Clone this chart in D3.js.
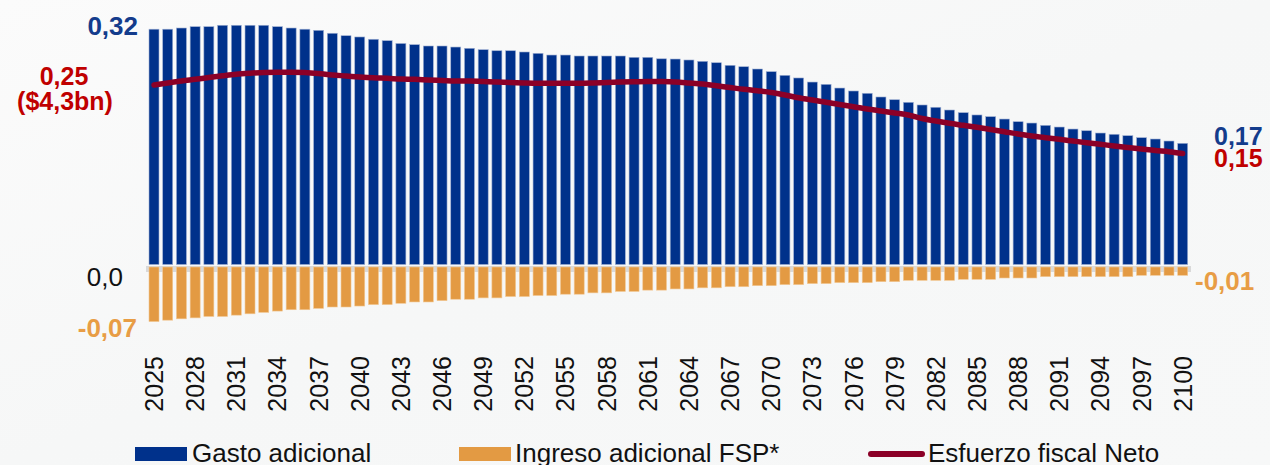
<!DOCTYPE html>
<html>
<head>
<meta charset="utf-8">
<script src="https://cdn.jsdelivr.net/npm/d3@7"></script>
<style>
  html, body { margin: 0; padding: 0; background: #f6f7f7; }
  svg { display: block; font-family: "Liberation Sans", Arial, sans-serif; }
</style>
</head>
<body>
<div id="chart-area"></div>
<script>
/* data */
const years = d3.range(2025, 2101)

const gasto = [
	.320, .320, .3216, .3234, .3234, .3253, .3253, .3253, .3253, .3234,
	.3216, .320, .3185, .3145, .3112, .3095, .3064, .3045, .3007, .2991,
	.2973, .2973, .2959, .2942, .2923, .2909, .2909, .2892, .2874, .2851,
	.2851, .2838, .2838, .2838, .2838, .282, .282, .280, .2797, .2784,
	.2766, .2747, .2712, .2693, .2662, .2626, .2577, .2541, .2486, .2455,
	.2405, .2365, .2334, .2284, .2247, .2212, .2176, .2145, .2108, .2072,
	.2041, .2018, .1986, .195, .1932, .1901, .1878, .1851, .1828, .1797,
	.178, .1761, .1734, .1716, .1689, .1658
]

const ingreso = [
	-.0751, -.0732, -.0714, -.0701, -.0682, -.0682, -.0664, -.0646, -.0627, -.0609,
	-.0591, -.0591, -.0573, -.0554, -.0554, -.0541, -.0522, -.0522, -.0504, -.0486,
	-.0486, -.0468, -.0449, -.0449, -.0431, -.0431, -.0413, -.0413, -.0399, -.0399,
	-.0381, -.0381, -.0363, -.0363, -.0344, -.0344, -.0326, -.0326, -.031, -.031,
	-.0295, -.0295, -.028, -.028, -.0266, -.0266, -.0252, -.0252, -.0238, -.0238,
	-.0225, -.0225, -.0225, -.0212, -.0212, -.0194, -.0194, -.0194, -.0194, -.018,
	-.018, -.018, -.0162, -.0162, -.0162, -.0144, -.0144, -.0144, -.0144, -.0144,
	-.0144, -.0144, -.0126, -.0126, -.0126, -.0126
]

const neto = [
	.2446, .2473, .25, .2523, .2547, .257, .2591, .2605, .2616, .2619,
	.2619, .2615, .2601, .2581, .2568, .2554, .2543, .2536, .2527, .2522,
	.2514, .2507, .25, .25, .2493, .2486, .248, .2473, .2469, .2469,
	.2469, .2469, .2473, .248, .2486, .249, .2493, .2493, .2486, .2473,
	.2459, .2436, .2412, .2388, .2368, .2345, .2311, .2274, .2243, .2212,
	.2182, .2153, .2122, .2095, .2068, .2041, .1993, .1959, .1928, .1901,
	.1874, .1845, .1815, .1784, .1757, .1734, .1712, .1689, .1666, .1645,
	.1622, .1601, .1581, .1561, .1545, .152
]

const tickYears = years.filter(y => (y - 2025) % 3 === 0)
const seriesNames = ['Gasto adicional', 'Ingreso adicional FSP*', 'Esfuerzo fiscal Neto']

const COLORS = { gasto: '#00318b', ingreso: '#e39a43', neto: '#8b0027' }

/* canvas */
const CANVAS_WIDTH = 1270
const CANVAS_HEIGHT = 465

const $svg = d3.select('#chart-area')
	.append('svg')
	.attr('width', CANVAS_WIDTH)
	.attr('height', CANVAS_HEIGHT)

// background with a faint lighter wedge
const defs = $svg.append('defs')
const grad = defs.append('linearGradient')
	.attr('id', 'bg')
	.attr('x1', '0').attr('y1', '0').attr('x2', '1').attr('y2', '1')
grad.append('stop').attr('offset', '0').attr('stop-color', '#fbfbfb')
grad.append('stop').attr('offset', '0.5').attr('stop-color', '#f6f7f7')
grad.append('stop').attr('offset', '1').attr('stop-color', '#f7f8f8')

$svg.append('rect')
	.attr('width', CANVAS_WIDTH)
	.attr('height', CANVAS_HEIGHT)
	.attr('fill', 'url(#bg)')

/* scales */
const xScale = d3.scaleBand()
	.domain(years)
	.range([149, 1187.7])
	.paddingInner(0.271)
	.paddingOuter(0)

const yScale = d3.scaleLinear()
	.domain([-0.08, 0.33])
	.range([266 + 0.08 * 740, 266 - 0.33 * 740])

const y0 = yScale(0)

// zero line
$svg.append('rect')
	.attr('x', 146)
	.attr('y', y0)
	.attr('width', 1191 - 146)
	.attr('height', 6)
	.attr('fill', '#d9d9d9')

/* bars */
$svg.append('g')
	.selectAll('rect')
	.data(years)
	.join('rect')
	.attr('x', d => xScale(d))
	.attr('width', xScale.bandwidth())
	.attr('y', (d, i) => yScale(gasto[i]))
	.attr('height', (d, i) => y0 - 1.5 - yScale(gasto[i]))
	.attr('fill', COLORS.gasto)
	.attr('stroke', '#9fb0d3')
	.attr('stroke-width', 0.6)

$svg.append('g')
	.selectAll('rect')
	.data(years)
	.join('rect')
	.attr('x', d => xScale(d))
	.attr('width', xScale.bandwidth())
	.attr('y', y0 + 1)
	.attr('height', (d, i) => yScale(ingreso[i]) - y0 - 1)
	.attr('fill', COLORS.ingreso)
	.attr('stroke', '#f2c894')
	.attr('stroke-width', 0.6)

/* net line */
const line = d3.line()
	.x((d, i) => xScale(years[i]) + xScale.bandwidth() / 2)
	.y(d => yScale(d))
	.curve(d3.curveMonotoneX)

$svg.append('path')
	.datum(neto)
	.attr('d', line)
	.attr('fill', 'none')
	.attr('stroke', COLORS.neto)
	.attr('stroke-width', 5.5)
	.attr('stroke-linecap', 'round')
	.attr('stroke-linejoin', 'round')

/* x axis */
const xAxisCall = d3.axisBottom(xScale)
	.tickValues(tickYears)
	.tickSize(0)

const $xAxis = $svg.append('g')
	.attr('transform', 'translate(0, 346)')
	.call(xAxisCall)

$xAxis.select('.domain').remove()
$xAxis.selectAll('text')
	.attr('transform', 'rotate(-90)')
	.attr('x', -10)
	.attr('y', 0)
	.attr('dy', '0.36em')
	.attr('text-anchor', 'end')
	.attr('font-size', 25)
	.attr('font-family', '"Liberation Sans", Arial, sans-serif')
	.attr('fill', '#111')

/* value labels */
const labels = [
	{ text: '0,32', x: 138, y: 35, anchor: 'end', color: '#143c8c', weight: 'bold', size: 26 },
	{ text: '0,25', x: 64, y: 85, anchor: 'middle', color: '#c00000', weight: 'bold', size: 25 },
	{ text: '($4,3bn)', x: 65, y: 110, anchor: 'middle', color: '#c00000', weight: 'bold', size: 25 },
	{ text: '0,0', x: 123, y: 286, anchor: 'end', color: '#111', weight: 'normal', size: 26 },
	{ text: '-0,07', x: 137, y: 337, anchor: 'end', color: '#e89d45', weight: 'bold', size: 26 },
	{ text: '0,17', x: 1214, y: 145, anchor: 'start', color: '#143c8c', weight: 'bold', size: 25 },
	{ text: '0,15', x: 1214, y: 167, anchor: 'start', color: '#c00000', weight: 'bold', size: 25 },
	{ text: '-0,01', x: 1195, y: 290, anchor: 'start', color: '#e89d45', weight: 'bold', size: 26 },
]

$svg.append('g')
	.selectAll('text')
	.data(labels)
	.join('text')
	.attr('x', d => d.x)
	.attr('y', d => d.y)
	.attr('text-anchor', d => d.anchor)
	.attr('fill', d => d.color)
	.attr('font-weight', d => d.weight)
	.attr('font-size', d => d.size)
	.text(d => d.text)

/* legend */
const $legend = $svg.append('g')
const legendY = 462

$legend.append('rect')
	.attr('x', 135).attr('y', 447).attr('width', 52).attr('height', 14)
	.attr('fill', COLORS.gasto)
$legend.append('text')
	.attr('x', 192).attr('y', legendY).attr('font-size', 26).attr('fill', '#111')
	.text(seriesNames[0])

$legend.append('rect')
	.attr('x', 459).attr('y', 447).attr('width', 52).attr('height', 14)
	.attr('fill', COLORS.ingreso)
$legend.append('text')
	.attr('x', 515).attr('y', legendY).attr('font-size', 26).attr('fill', '#111')
	.text(seriesNames[1])

$legend.append('line')
	.attr('x1', 871).attr('x2', 922).attr('y1', 454).attr('y2', 454)
	.attr('stroke', COLORS.neto).attr('stroke-width', 6).attr('stroke-linecap', 'round')
$legend.append('text')
	.attr('x', 928).attr('y', legendY).attr('font-size', 26).attr('fill', '#111')
	.text(seriesNames[2])
</script>
</body>
</html>
